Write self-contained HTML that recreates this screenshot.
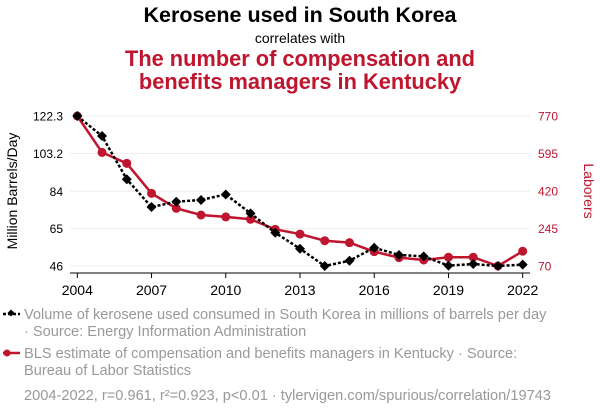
<!DOCTYPE html>
<html><head><meta charset="utf-8"><style>
body{margin:0;background:#fff;font-family:"Liberation Sans",sans-serif;}
svg text{font-family:"Liberation Sans",sans-serif;}
</style></head><body>
<svg id="c" width="600" height="414" viewBox="0 0 600 414">
<text x="300" y="22" text-anchor="middle" font-size="21.5" font-weight="bold" fill="#000">Kerosene used in South Korea</text>
<text x="300" y="43" text-anchor="middle" font-size="14" fill="#000">correlates with</text>
<text x="300" y="66" text-anchor="middle" font-size="21.8" font-weight="bold" fill="#c0152f">The number of compensation and</text>
<text x="300" y="89" text-anchor="middle" font-size="21.8" font-weight="bold" fill="#c0152f">benefits managers in Kentucky</text>
<g id="grid"></g><g id="axes"></g><g id="series"></g>
<text transform="translate(17,191) rotate(-90)" text-anchor="middle" font-size="14" fill="#000">Million Barrels/Day</text>
<text transform="translate(584,191) rotate(90)" text-anchor="middle" font-size="14" fill="#c0152f">Laborers</text>
<g>
<line x1="3" y1="314" x2="20" y2="314" stroke="#000" stroke-width="2.5" stroke-dasharray="3,2"/>
<rect x="8.5" y="310.5" width="5" height="5" transform="rotate(45 11 313)" fill="#000"/>
<text x="24" y="319" font-size="14.6" fill="#999">Volume of kerosene used consumed in South Korea in millions of barrels per day</text>
<text x="24" y="336" font-size="14.6" fill="#999">· Source: Energy Information Administration</text>
</g>
<g>
<line x1="3" y1="353" x2="20" y2="353" stroke="#c0152f" stroke-width="2.5"/>
<circle cx="7" cy="353" r="3.5" fill="#c0152f"/>
<text x="24" y="358" font-size="14.6" fill="#999">BLS estimate of compensation and benefits managers in Kentucky · Source:</text>
<text x="24" y="375" font-size="14.6" fill="#999">Bureau of Labor Statistics</text>
</g>
<text x="24" y="400" font-size="14.6" fill="#999">2004-2022, r=0.961, r²=0.923, p&lt;0.01 · tylervigen.com/spurious/correlation/19743</text>
</svg>
<script>
const years=[2004,2005,2006,2007,2008,2009,2010,2011,2012,2013,2014,2015,2016,2017,2018,2019,2020,2021,2022];
const kerosene=[122.3,112.1,90.1,76.0,78.7,79.6,82.4,72.8,62.9,54.8,46,48.7,55.3,51.6,50.9,46.2,47,46,46.7];
const managers=[770,600,549,409,339,308,299,288,241,219,188,179,137,109,98,111,111,70,139];
const leftTicks=[46,65,84,103.2,122.3];
const rightTicks=[70,245,420,595,770];
const xTicks=[2004,2007,2010,2013,2016,2019,2022];
const NS='http://www.w3.org/2000/svg';
const x=v=>77.3+(v-2004)*(522.7-77.3)/18;
const yL=v=>266-(v-46)*150/(122.3-46);
const yR=v=>266-(v-70)*150/700;
function mk(t,a,p){const e=document.createElementNS(NS,t);for(const k in a)e.setAttribute(k,a[k]);document.getElementById(p).appendChild(e);return e;}
leftTicks.forEach((t,i)=>{
 const g=mk('line',{x1:70,x2:530,y1:yL(t),y2:yL(t),stroke:'#eee','stroke-width':1},'grid');
 
 
 const l=mk('text',{x:63,y:yL(t)+4.5,'text-anchor':'end','font-size':12,fill:'#000'},'axes');l.textContent=t;
 
 
});
rightTicks.forEach(t=>{
 const l=mk('text',{x:538,y:yR(t)+4.5,'font-size':12,fill:'#c0152f'},'axes');l.textContent=t;
 
 
});
const ax=mk('line',{x1:70,x2:530,y1:273,y2:273,stroke:'#000','stroke-width':1},'axes');


xTicks.forEach(t=>{
 mk('line',{x1:x(t),x2:x(t),y1:273,y2:278,stroke:'#000'},'axes');
 const l=mk('text',{x:x(t),y:295,'text-anchor':'middle','font-size':14,fill:'#000'},'axes');l.textContent=t;
 
 
});
const rp=mk('polyline',{points:years.map((y,i)=>x(y)+','+yR(managers[i])).join(' '),fill:'none',stroke:'#c0152f','stroke-width':2.5},'series');


years.forEach((y,i)=>{const c=mk('circle',{cx:x(y),cy:yR(managers[i]),r:4.5,fill:'#c0152f'},'series');
 
 });
const kp=mk('polyline',{points:years.map((y,i)=>x(y)+','+yL(kerosene[i])).join(' '),fill:'none',stroke:'#000','stroke-width':2.5,'stroke-dasharray':'3,2'},'series');


years.forEach((y,i)=>{const cx=x(y),cy=yL(kerosene[i]);
 const d=mk('polygon',{points:`${cx},${cy-5} ${cx+5},${cy} ${cx},${cy+5} ${cx-5},${cy}`,fill:'#000'},'series');
 
 });
</script>
</body></html>
